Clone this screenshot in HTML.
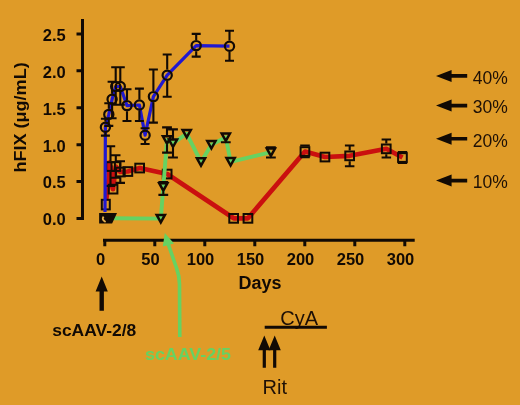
<!DOCTYPE html>
<html><head><meta charset="utf-8"><style>
html,body{margin:0;padding:0;background:#DF9B28;}
svg{display:block;}
text{font-family:"Liberation Sans",Arial,sans-serif;fill:#120a04;}
.tl{font-size:16.5px;font-weight:bold;}
.ax{font-size:17.5px;font-weight:bold;}
.pc{font-size:17.5px;fill:#1e1006;}
.lb{font-size:16px;font-weight:bold;}
.cy{font-size:20px;fill:#1e1006;}
</style></head><body>
<svg width="520" height="405" viewBox="0 0 520 405">
<rect width="520" height="405" fill="#DF9B28"/>
<path d="M82.5 19 V220" stroke="#120a04" stroke-width="3" fill="none"/>
<path d="M76.5 218.5 H84 M76.5 181.6 H84 M76.5 144.7 H84 M76.5 107.7 H84 M76.5 70.8 H84 M76.5 33.9 H84 " stroke="#120a04" stroke-width="3" fill="none"/>
<path d="M103 240.3 H414.7" stroke="#120a04" stroke-width="3" fill="none"/>
<path d="M104.8 239 V246.3 M154.8 239 V246.3 M204.8 239 V246.3 M254.8 239 V246.3 M304.8 239 V246.3 M354.8 239 V246.3 M404.8 239 V246.3 " stroke="#120a04" stroke-width="3" fill="none"/>
<text x="65.8" y="225.3" class="tl" text-anchor="end">0.0</text>
<text x="65.8" y="188.4" class="tl" text-anchor="end">0.5</text>
<text x="65.8" y="151.5" class="tl" text-anchor="end">1.0</text>
<text x="65.8" y="114.5" class="tl" text-anchor="end">1.5</text>
<text x="65.8" y="77.6" class="tl" text-anchor="end">2.0</text>
<text x="65.8" y="40.7" class="tl" text-anchor="end">2.5</text>
<text x="100.5" y="265" class="tl" text-anchor="middle">0</text>
<text x="150.5" y="265" class="tl" text-anchor="middle">50</text>
<text x="200.5" y="265" class="tl" text-anchor="middle">100</text>
<text x="250.5" y="265" class="tl" text-anchor="middle">150</text>
<text x="300.5" y="265" class="tl" text-anchor="middle">200</text>
<text x="350.5" y="265" class="tl" text-anchor="middle">250</text>
<text x="400.5" y="265" class="tl" text-anchor="middle">300</text>
<text x="238.6" y="288.8" class="ax" textLength="43" lengthAdjust="spacingAndGlyphs">Days</text>
<text transform="translate(25.6 172.6) rotate(-90)" class="ax" style="font-size:16.5px" textLength="110.3" lengthAdjust="spacingAndGlyphs">hFIX (μg/mL)</text>
<polyline points="106.2,200 110.5,166.5 113.0,189.2 115.8,166.5 120.3,172.0 127.8,171.5 139.7,168.0 167.2,174.0 233.7,218.3 247.9,218.3 305,151.5 325,157 349.7,155.8 386.3,148.8 402.5,157.5" fill="none" stroke="#ca0f0f" stroke-width="4.7" stroke-linejoin="round"/>
<path d="M106.8 161 L110 160 L114.6 171 L114.6 184 L110.5 188 L108.5 197 L106.8 198 Z" fill="#ca0f0f"/>
<path d="M105.8 146.3 H115.2 M110.5 146.3 V161.2 M110.5 171.8 V186.0 M105.8 186.0 H115.2 M111.0 155.2 H120.5 M115.8 155.2 V161.2 M115.8 171.8 V177.8 M111.0 177.8 H120.5 M115.5 161.2 H125.0 M120.3 161.2 V166.7 M120.3 177.3 V182.9 M115.5 182.9 H125.0 M300.2 145.5 H309.8 M305.0 145.5 V146.2 M305.0 156.8 V157.2 M300.2 157.2 H309.8 M344.9 145.5 H354.4 M349.7 145.5 V150.5 M349.7 161.2 V166.3 M344.9 166.3 H354.4 M381.6 139.5 H391.1 M386.3 139.5 V143.5 M386.3 154.2 V157.5 M381.6 157.5 H391.1 M397.8 152.0 H407.2 M402.5 152.0 V152.2 M402.5 162.8 V163.0 M397.8 163.0 H407.2 " stroke="#120a04" stroke-width="2.1" fill="none"/>
<g fill="none" stroke="#120a04" stroke-width="2"><rect x="106.2" y="162.2" width="8.7" height="8.7"/><rect x="108.7" y="184.8" width="8.7" height="8.7"/><rect x="111.5" y="162.2" width="8.7" height="8.7"/><rect x="116.0" y="167.7" width="8.7" height="8.7"/><rect x="123.5" y="167.2" width="8.7" height="8.7"/><rect x="135.3" y="163.7" width="8.7" height="8.7"/><rect x="162.8" y="169.7" width="8.7" height="8.7"/><rect x="229.3" y="214.0" width="8.7" height="8.7"/><rect x="243.6" y="214.0" width="8.7" height="8.7"/><rect x="300.6" y="147.2" width="8.7" height="8.7"/><rect x="320.6" y="152.7" width="8.7" height="8.7"/><rect x="345.3" y="151.5" width="8.7" height="8.7"/><rect x="381.9" y="144.5" width="8.7" height="8.7"/><rect x="398.1" y="153.2" width="8.7" height="8.7"/><rect x="101.8" y="199.8" width="8" height="9.6"/></g>
<polyline points="113,218.3 160.8,218.6 163.3,187.0 167.0,140.0 173.0,143.3 186.7,133.7 201,162 211.4,144.8 225.8,137.2 230.6,161.8 270.9,152.2" fill="none" stroke="#66d262" stroke-width="3.9" stroke-linejoin="round"/>
<path d="M158.4 182.0 H168.2 M163.3 182.0 V182.6 M163.3 191.4 V194.9 M158.4 194.9 H168.2 M162.1 127.4 H171.9 M167.0 127.4 V135.6 M167.0 144.4 V152.6 M162.1 152.6 H171.9 M168.1 129.4 H177.9 M173.0 129.4 V138.9 M173.0 147.7 V157.5 M168.1 157.5 H177.9 M225.8 141.6 V142.3 M220.9 142.3 H230.7 M266.0 147.3 H275.8 M270.9 147.3 V147.8 M270.9 156.6 V157.5 M266.0 157.5 H275.8 " stroke="#120a04" stroke-width="2.1" fill="none"/>
<g fill="none" stroke="#120a04" stroke-width="2.5" stroke-linejoin="miter"><path d="M156.7 214.9 H164.9 L160.8 222.3 Z"/><path d="M159.2 183.3 H167.4 L163.3 190.7 Z"/><path d="M162.9 136.3 H171.1 L167.0 143.7 Z"/><path d="M168.9 139.6 H177.1 L173.0 147.0 Z"/><path d="M182.6 130.0 H190.8 L186.7 137.4 Z"/><path d="M196.9 158.3 H205.1 L201.0 165.7 Z"/><path d="M207.3 141.1 H215.5 L211.4 148.5 Z"/><path d="M221.7 133.5 H229.9 L225.8 140.9 Z"/><path d="M226.5 158.1 H234.7 L230.6 165.5 Z"/><path d="M266.8 148.5 H275.0 L270.9 155.9 Z"/></g>
<polyline points="105.0,212 105.4,127.2 108.8,114.4 112.1,99.3 115.7,86.5 120.3,86.5 127.0,105.6 139.4,105.0 145.1,135.2 153.4,96.6 167.2,75.2 196.2,45.6 229.5,46.2" fill="none" stroke="#2018d0" stroke-width="3.2" stroke-linejoin="round"/>
<path d="M100.9 118.8 H109.9 M105.4 118.8 V121.6 M105.4 132.8 V135.6 M100.9 135.6 H109.9 M104.3 103.3 H113.3 M108.8 103.3 V108.8 M108.8 120.0 V125.9 M104.3 125.9 H113.3 M107.6 81.7 H116.6 M112.1 81.7 V93.7 M112.1 104.9 V118.3 M107.6 118.3 H116.6 M111.2 67.2 H120.2 M115.7 67.2 V80.9 M115.7 92.1 V104.7 M111.2 104.7 H120.2 M115.8 67.2 H124.8 M120.3 67.2 V80.9 M120.3 92.1 V104.7 M115.8 104.7 H124.8 M122.5 89.3 H131.5 M127.0 89.3 V100.0 M127.0 111.2 V121.0 M122.5 121.0 H131.5 M134.9 88.6 H143.9 M139.4 88.6 V99.4 M139.4 110.6 V121.0 M134.9 121.0 H143.9 M140.6 128.3 H149.6 M145.1 128.3 V129.6 M145.1 140.8 V144.0 M140.6 144.0 H149.6 M148.9 69.5 H157.9 M153.4 69.5 V91.0 M153.4 102.2 V122.6 M148.9 122.6 H157.9 M162.7 54.5 H171.7 M167.2 54.5 V69.6 M167.2 80.8 V96.8 M162.7 96.8 H171.7 M191.7 33.9 H200.7 M196.2 33.9 V40.0 M196.2 51.2 V56.6 M191.7 56.6 H200.7 M225.0 30.8 H234.0 M229.5 30.8 V40.6 M229.5 51.8 V60.8 M225.0 60.8 H234.0 " stroke="#120a04" stroke-width="2.1" fill="none"/>
<g fill="none" stroke="#120a04" stroke-width="2.2"><circle cx="105.4" cy="127.2" r="4.6"/><circle cx="108.8" cy="114.4" r="4.6"/><circle cx="112.1" cy="99.3" r="4.6"/><circle cx="115.7" cy="86.5" r="4.6"/><circle cx="120.3" cy="86.5" r="4.6"/><circle cx="127.0" cy="105.6" r="4.6"/><circle cx="139.4" cy="105.0" r="4.6"/><circle cx="145.1" cy="135.2" r="4.6"/><circle cx="153.4" cy="96.6" r="4.6"/><circle cx="167.2" cy="75.2" r="4.6"/><circle cx="196.2" cy="45.6" r="4.6"/><circle cx="229.5" cy="46.2" r="4.6"/></g>
<path d="M99.1 213.1 H117 L112.1 223.5 H99.1 Z" fill="#120a04"/>
<path d="M103.6 216.6 Q101.2 219.6 105.6 222" fill="none" stroke="#e6b04e" stroke-width="1.9"/>
<path d="M436 75.9 L451.6 69.9 V74.10000000000001 H467.2 V77.7 H451.6 V81.9 Z" fill="#120a04"/>
<text x="472.7" y="83.7" class="pc">40%</text>
<path d="M436 105.6 L451.6 99.6 V103.8 H467.2 V107.39999999999999 H451.6 V111.6 Z" fill="#120a04"/>
<text x="472.7" y="113.4" class="pc">30%</text>
<path d="M436 138.8 L451.6 132.8 V137.0 H467.2 V140.60000000000002 H451.6 V144.8 Z" fill="#120a04"/>
<text x="472.7" y="146.6" class="pc">20%</text>
<path d="M436 180.6 L451.6 174.6 V178.79999999999998 H467.2 V182.4 H451.6 V186.6 Z" fill="#120a04"/>
<text x="472.7" y="188.4" class="pc">10%</text>
<path d="M101.7 276.5 L107.8 291.6 H103.9 V310.8 H99.5 V291.6 H95.60000000000001 Z" fill="#120a04"/>
<text x="52.2" y="335.9" class="lb" textLength="84" lengthAdjust="spacingAndGlyphs">scAAV-2/8</text>
<path d="M167.5 242 L176.5 268 Q179.5 276 179.5 284 L179.8 337" fill="none" stroke="#66d262" stroke-width="3.6"/>
<path d="M164.8 233 L174 243.5 L162.8 246.5 Z" fill="#66d262"/>
<text x="145" y="359.7" class="lb" style="fill:#66d262" textLength="86" lengthAdjust="spacingAndGlyphs">scAAV-2/5</text>
<text x="280.2" y="324.6" class="cy">CyA</text>
<path d="M264.7 327.2 H326.9" stroke="#120a04" stroke-width="3"/>
<path d="M264.3 335.5 L270.40000000000003 350.3 H265.90000000000003 V367.8 H262.7 V350.3 H258.2 Z" fill="#120a04"/>
<path d="M274.7 335.5 L280.8 350.3 H276.3 V367.8 H273.09999999999997 V350.3 H268.59999999999997 Z" fill="#120a04"/>
<text x="262.5" y="394" class="cy">Rit</text>
</svg>
</body></html>
